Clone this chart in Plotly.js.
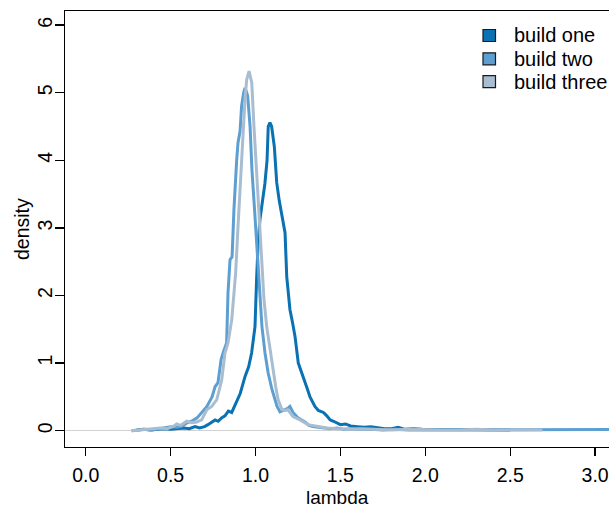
<!DOCTYPE html>
<html>
<head>
<meta charset="utf-8">
<script src="https://cdn.plot.ly/plotly-3.0.1.min.js"></script>
<style>html,body{margin:0;padding:0;background:#fff;}#chart{width:609px;height:509px;}</style>
</head>
<body>
<div id="chart"></div>
<script>
const seriesNames = ["build one", "build two", "build three"];
const seriesColors = ["#0a72b2", "#5e9fd2", "#a9bdd1"];

const x1 = [0.30,0.34,0.38,0.42,0.46,0.50,0.54,0.58,0.61,0.644,0.67,0.70,0.72,0.74,0.762,0.78,0.80,0.82,0.84,0.86,0.889,0.91,0.938,0.96,0.977,0.997,1.007,1.015,1.026,1.035,1.044,1.055,1.068,1.075,1.085,1.095,1.111,1.125,1.14,1.158,1.174,1.184,1.193,1.203,1.218,1.233,1.252,1.27,1.29,1.305,1.321,1.335,1.35,1.37,1.40,1.42,1.44,1.46,1.48,1.50,1.53,1.56,1.60,1.64,1.68,1.72,1.76,1.80,1.84,1.88,1.93,1.98,2.05,2.12,2.2,2.3,2.4,2.5];
const y1 = [0.01,0.02,0.01,0.02,0.03,0.02,0.03,0.04,0.03,0.06,0.04,0.06,0.09,0.12,0.16,0.14,0.19,0.22,0.29,0.27,0.43,0.55,0.8,0.95,1.15,1.54,2.28,2.75,3.12,3.3,3.42,3.65,4.0,4.5,4.56,4.5,4.2,3.67,3.4,3.12,2.93,2.28,2.0,1.79,1.6,1.39,1.0,0.88,0.75,0.62,0.5,0.42,0.36,0.3,0.27,0.22,0.16,0.14,0.12,0.09,0.1,0.07,0.06,0.05,0.06,0.04,0.03,0.03,0.05,0.02,0.03,0.02,0.02,0.01,0.02,0.01,0.01,0.01];

const x2 = [0.27,0.31,0.35,0.39,0.43,0.47,0.50,0.54,0.57,0.60,0.63,0.656,0.685,0.714,0.744,0.762,0.779,0.797,0.809,0.83,0.838,0.85,0.862,0.873,0.889,0.897,0.909,0.918,0.93,0.938,0.946,0.954,0.968,0.979,0.997,1.013,1.026,1.038,1.056,1.074,1.097,1.127,1.144,1.16,1.174,1.19,1.203,1.221,1.25,1.27,1.291,1.315,1.338,1.37,1.40,1.44,1.48,1.52,1.57,1.62,1.68,1.75,1.82,1.9,2.0,2.1,2.2,2.35,2.5,2.65,2.8,2.95,3.1,3.2];
const y2 = [0.0,0.01,0.02,0.01,0.03,0.04,0.06,0.05,0.07,0.12,0.15,0.19,0.27,0.36,0.5,0.65,0.71,1.05,1.15,1.3,2.04,2.53,2.57,3.27,4.0,4.26,4.43,4.8,5.0,5.07,5.02,4.95,4.5,3.86,3.17,2.53,2.04,1.54,1.15,0.86,0.61,0.36,0.28,0.3,0.31,0.33,0.36,0.27,0.19,0.16,0.13,0.08,0.06,0.05,0.04,0.03,0.04,0.02,0.03,0.02,0.02,0.01,0.02,0.01,0.01,0.01,0.01,0.01,0.01,0.01,0.01,0.01,0.01,0.02];

const x3 = [0.27,0.31,0.35,0.39,0.44,0.48,0.52,0.536,0.56,0.595,0.625,0.654,0.683,0.713,0.742,0.772,0.801,0.82,0.838,0.86,0.873,0.883,0.897,0.918,0.926,0.938,0.948,0.962,0.978,0.991,1.007,1.021,1.037,1.05,1.066,1.085,1.103,1.119,1.133,1.156,1.175,1.191,1.221,1.262,1.309,1.368,1.42,1.48,1.55,1.62,1.7,1.8,1.9,2.0,2.1,2.2,2.3,2.4,2.5,2.6,2.69];
const y3 = [0.0,0.01,0.01,0.02,0.04,0.03,0.07,0.1,0.08,0.14,0.12,0.13,0.16,0.31,0.36,0.46,0.75,1.15,1.3,1.64,2.04,2.33,3.02,3.86,4.35,4.9,5.19,5.32,5.15,4.5,3.76,3.12,2.43,1.94,1.54,1.2,0.86,0.65,0.46,0.31,0.3,0.31,0.21,0.16,0.09,0.06,0.04,0.03,0.02,0.03,0.02,0.01,0.02,0.01,0.01,0.01,0.02,0.01,0.01,0.01,0.01];

const xTicks = [0, 0.5, 1, 1.5, 2, 2.5, 3];
const xTickText = ["0.0", "0.5", "1.0", "1.5", "2.0", "2.5", "3.0"];
const yTicks = [0, 1, 2, 3, 4, 5, 6];

const xs = [x1, x2, x3], ys = [y1, y2, y3];
const FONT = "Liberation Sans, Arial, Helvetica, sans-serif";

const traces = seriesNames.map((n, i) => ({
  x: xs[i], y: ys[i], type: "scatter", mode: "lines", name: n,
  line: {color: seriesColors[i], width: 3}, showlegend: false, hoverinfo: "skip"
}));

// manual R-style legend (paper coords)
const W = 609, H = 509, ml = 65, mt = 11, mb = 62;
const pw = W - ml, ph = H - mt - mb;
const px = v => (v - ml) / pw;
const py = v => (H - mb - v) / ph;
const rowY = [35.5, 58.8, 81.6];
const shapes = [], annotations = [];
seriesNames.forEach((n, i) => {
  shapes.push({type: "rect", xref: "paper", yref: "paper",
    x0: px(483), x1: px(495.5), y0: py(rowY[i] + 6), y1: py(rowY[i] - 6),
    fillcolor: seriesColors[i], line: {color: "#1a1a1a", width: 1.2}});
  annotations.push({xref: "paper", yref: "paper", x: px(512), y: py(rowY[i]),
    xanchor: "left", yanchor: "middle", text: n, showarrow: false,
    font: {family: FONT, size: 20, color: "#000"}});
});
// axis titles placed like R's mtext
annotations.push({xref: "paper", yref: "paper", x: 0.5, y: py(497), xanchor: "center", yanchor: "middle",
  text: "lambda", showarrow: false, font: {family: FONT, size: 19, color: "#000"}});
annotations.push({xref: "paper", yref: "paper", x: px(22), y: py(229), xanchor: "center", yanchor: "middle",
  text: "density", textangle: -90, showarrow: false, font: {family: FONT, size: 19.5, color: "#000"}});

const layout = {
  width: W, height: H,
  margin: {l: ml, r: 0, t: mt, b: mb, pad: 0},
  paper_bgcolor: "#fff", plot_bgcolor: "#fff",
  font: {family: FONT, size: 19.5, color: "#000"},
  xaxis: {
    range: [-0.122, 3.082], tickvals: xTicks, ticktext: xTickText,
    showgrid: false, zeroline: false, showline: true, mirror: true,
    linecolor: "#000", linewidth: 1.3, ticks: "outside", ticklen: 8, tickwidth: 1.3,
    tickcolor: "#000", tickfont: {family: FONT, size: 19.5}, ticklabelstandoff: 2
  },
  yaxis: {
    range: [-0.241, 6.209], tickvals: yTicks,
    showgrid: false, zeroline: true, zerolinecolor: "#d2d2d2", zerolinewidth: 1.3,
    showline: true, linecolor: "#000", linewidth: 1.3, ticks: "outside", ticklen: 9, tickwidth: 1.3,
    tickcolor: "#000", tickangle: -90, tickfont: {family: FONT, size: 19.5}, ticklabelstandoff: -5
  },
  shapes: shapes, annotations: annotations, showlegend: false
};

Plotly.newPlot("chart", traces, layout, {displayModeBar: false, staticPlot: true});
</script>
</body>
</html>
